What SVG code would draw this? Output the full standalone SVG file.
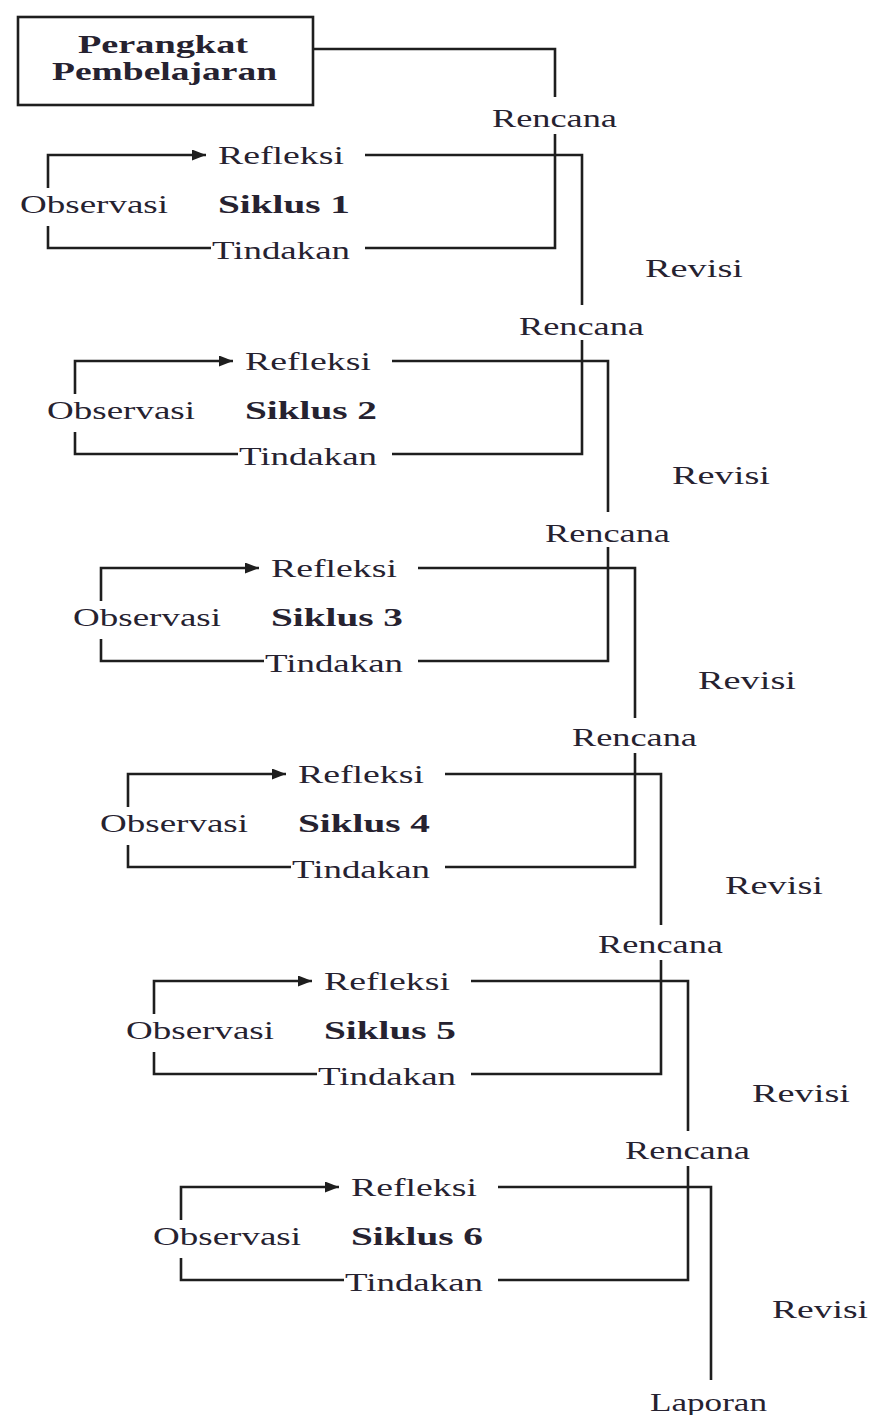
<svg xmlns="http://www.w3.org/2000/svg" width="869" height="1415" viewBox="0 0 869 1415">
<style>
.t{font-family:"Liberation Serif","Times New Roman",serif;font-size:26px;fill:#262230}
.b{font-weight:bold}
.ln{fill:none;stroke:#1e1e1e;stroke-width:2.6}
</style>
<defs>
<marker id="ah" viewBox="0 0 14 11" refX="14" refY="5.5" markerWidth="14" markerHeight="11" markerUnits="userSpaceOnUse" orient="auto">
<path d="M0,0 L14,5.5 L0,11 Z" fill="#1e1e1e"/>
</marker>
</defs>
<rect width="869" height="1415" fill="#ffffff"/>
<g id="connectors">
<path class="ln" d="M313,49 H555 V97"/>
<path class="ln" d="M555,134 V248 H365"/>
<path class="ln" d="M48,188 V155 H206" marker-end="url(#ah)"/>
<path class="ln" d="M48,226 V248 H211"/>
<path class="ln" d="M365,155 H582 V305"/>
<path class="ln" d="M582,340 V454 H392"/>
<path class="ln" d="M75,394 V361 H233" marker-end="url(#ah)"/>
<path class="ln" d="M75,432 V454 H238"/>
<path class="ln" d="M392,361 H608 V512"/>
<path class="ln" d="M608,547 V661 H418"/>
<path class="ln" d="M101,601 V568 H259" marker-end="url(#ah)"/>
<path class="ln" d="M101,639 V661 H264"/>
<path class="ln" d="M418,568 H635 V718"/>
<path class="ln" d="M635,753 V867 H445"/>
<path class="ln" d="M128,807 V774 H286" marker-end="url(#ah)"/>
<path class="ln" d="M128,845 V867 H291"/>
<path class="ln" d="M445,774 H661 V925"/>
<path class="ln" d="M661,960 V1074 H471"/>
<path class="ln" d="M154,1014 V981 H312" marker-end="url(#ah)"/>
<path class="ln" d="M154,1052 V1074 H317"/>
<path class="ln" d="M471,981 H688 V1131"/>
<path class="ln" d="M688,1166 V1280 H498"/>
<path class="ln" d="M181,1220 V1187 H339" marker-end="url(#ah)"/>
<path class="ln" d="M181,1258 V1280 H344"/>
<path class="ln" d="M498,1187 H711 V1380"/>
</g>
<g id="perangkat">
<rect x="18" y="17" width="295" height="88" fill="none" stroke="#1e1e1e" stroke-width="2.6"/>
<text class="t b" x="78" y="53" textLength="170" lengthAdjust="spacingAndGlyphs">Perangkat</text>
<text class="t b" x="52" y="80" textLength="225" lengthAdjust="spacingAndGlyphs">Pembelajaran</text>
</g>
<g id="siklus1">
<text class="t" x="218" y="164" textLength="126" lengthAdjust="spacingAndGlyphs">Refleksi</text>
<text class="t" x="20" y="213" textLength="148" lengthAdjust="spacingAndGlyphs">Observasi</text>
<text class="t b" x="218" y="213" textLength="132" lengthAdjust="spacingAndGlyphs">Siklus 1</text>
<text class="t" x="212" y="259" textLength="138" lengthAdjust="spacingAndGlyphs">Tindakan</text>
</g>
<g id="siklus2">
<text class="t" x="245" y="370" textLength="126" lengthAdjust="spacingAndGlyphs">Refleksi</text>
<text class="t" x="47" y="419" textLength="148" lengthAdjust="spacingAndGlyphs">Observasi</text>
<text class="t b" x="245" y="419" textLength="132" lengthAdjust="spacingAndGlyphs">Siklus 2</text>
<text class="t" x="239" y="465" textLength="138" lengthAdjust="spacingAndGlyphs">Tindakan</text>
</g>
<g id="siklus3">
<text class="t" x="271" y="577" textLength="126" lengthAdjust="spacingAndGlyphs">Refleksi</text>
<text class="t" x="73" y="626" textLength="148" lengthAdjust="spacingAndGlyphs">Observasi</text>
<text class="t b" x="271" y="626" textLength="132" lengthAdjust="spacingAndGlyphs">Siklus 3</text>
<text class="t" x="265" y="672" textLength="138" lengthAdjust="spacingAndGlyphs">Tindakan</text>
</g>
<g id="siklus4">
<text class="t" x="298" y="783" textLength="126" lengthAdjust="spacingAndGlyphs">Refleksi</text>
<text class="t" x="100" y="832" textLength="148" lengthAdjust="spacingAndGlyphs">Observasi</text>
<text class="t b" x="298" y="832" textLength="132" lengthAdjust="spacingAndGlyphs">Siklus 4</text>
<text class="t" x="292" y="878" textLength="138" lengthAdjust="spacingAndGlyphs">Tindakan</text>
</g>
<g id="siklus5">
<text class="t" x="324" y="990" textLength="126" lengthAdjust="spacingAndGlyphs">Refleksi</text>
<text class="t" x="126" y="1039" textLength="148" lengthAdjust="spacingAndGlyphs">Observasi</text>
<text class="t b" x="324" y="1039" textLength="132" lengthAdjust="spacingAndGlyphs">Siklus 5</text>
<text class="t" x="318" y="1085" textLength="138" lengthAdjust="spacingAndGlyphs">Tindakan</text>
</g>
<g id="siklus6">
<text class="t" x="351" y="1196" textLength="126" lengthAdjust="spacingAndGlyphs">Refleksi</text>
<text class="t" x="153" y="1245" textLength="148" lengthAdjust="spacingAndGlyphs">Observasi</text>
<text class="t b" x="351" y="1245" textLength="132" lengthAdjust="spacingAndGlyphs">Siklus 6</text>
<text class="t" x="345" y="1291" textLength="138" lengthAdjust="spacingAndGlyphs">Tindakan</text>
</g>
<g id="rencana">
<text class="t" x="492" y="127" textLength="125" lengthAdjust="spacingAndGlyphs">Rencana</text>
<text class="t" x="519" y="335" textLength="125" lengthAdjust="spacingAndGlyphs">Rencana</text>
<text class="t" x="545" y="542" textLength="125" lengthAdjust="spacingAndGlyphs">Rencana</text>
<text class="t" x="572" y="746" textLength="125" lengthAdjust="spacingAndGlyphs">Rencana</text>
<text class="t" x="598" y="953" textLength="125" lengthAdjust="spacingAndGlyphs">Rencana</text>
<text class="t" x="625" y="1159" textLength="125" lengthAdjust="spacingAndGlyphs">Rencana</text>
</g>
<g id="revisi">
<text class="t" x="645" y="277" textLength="98" lengthAdjust="spacingAndGlyphs">Revisi</text>
<text class="t" x="672" y="484" textLength="98" lengthAdjust="spacingAndGlyphs">Revisi</text>
<text class="t" x="698" y="689" textLength="98" lengthAdjust="spacingAndGlyphs">Revisi</text>
<text class="t" x="725" y="894" textLength="98" lengthAdjust="spacingAndGlyphs">Revisi</text>
<text class="t" x="752" y="1102" textLength="98" lengthAdjust="spacingAndGlyphs">Revisi</text>
<text class="t" x="772" y="1318" textLength="96" lengthAdjust="spacingAndGlyphs">Revisi</text>
</g>
<g id="laporan">
<text class="t" x="650" y="1411" textLength="117" lengthAdjust="spacingAndGlyphs">Laporan</text>
</g>
</svg>
